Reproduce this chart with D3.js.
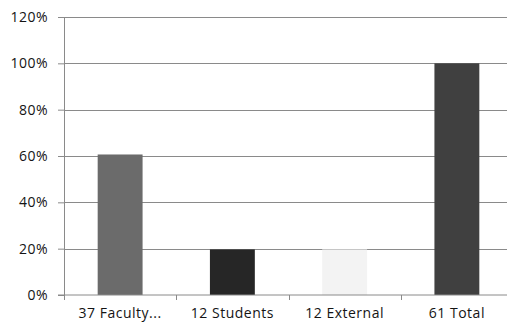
<!DOCTYPE html>
<html>
<head>
<meta charset="utf-8">
<script src="https://cdn.jsdelivr.net/npm/d3@7"></script>
<style>
  html, body { margin: 0; padding: 0; background: #fff; }
  svg { display: block; }
  text { font-family: "Open Sans", "DejaVu Sans", sans-serif; fill: #141414; letter-spacing: 0.5px; }
</style>
</head>
<body>
<svg id="chart" width="507" height="322"></svg>
<script>
// Participant groups and their share of the 61 total
const categories = ["37 Faculty...", "12 Students", "12 External", "61 Total"];
const shares = [37 / 61, 12 / 61, 12 / 61, 61 / 61];
const barColors = ["#6b6b6b", "#262626", "#f3f3f3", "#404040"];
const yTicks = [0, 0.2, 0.4, 0.6, 0.8, 1.0, 1.2];

const svg = d3.select("#chart");
const margin = { left: 64, top: 17, bottom: 27 };
const plotRight = 513;
const height = 322;
const lineColor = "#8a8a8a";

const x = d3.scaleBand()
  .domain(categories)
  .range([margin.left, plotRight])
  .paddingInner(0.6)
  .paddingOuter(0.3);

const y = d3.scaleLinear()
  .domain([0, 1.2])
  .range([height - margin.bottom, margin.top]);

// Value axis with short outer ticks on the left
const yAxis = svg.append("g")
  .attr("transform", `translate(${margin.left},0)`)
  .call(d3.axisLeft(y)
    .tickValues(yTicks)
    .tickFormat(d3.format(".0%"))
    .tickSize(6)
    .tickPadding(10));
yAxis.select(".domain").attr("stroke", lineColor);
yAxis.selectAll(".tick line").attr("stroke", lineColor);
yAxis.selectAll(".tick text").style("font-size", "14px").attr("fill", "#141414");

// Horizontal gridlines
svg.append("g")
  .selectAll("line")
  .data(yTicks.filter(d => d > 0))
  .join("line")
  .attr("x1", margin.left)
  .attr("x2", plotRight)
  .attr("y1", d => Math.round(y(d)) + 0.5)
  .attr("y2", d => Math.round(y(d)) + 0.5)
  .attr("stroke", lineColor)
  .attr("stroke-width", 1);

// Bars
svg.append("g")
  .selectAll("rect")
  .data(categories)
  .join("rect")
  .attr("x", d => x(d))
  .attr("width", x.bandwidth())
  .attr("y", (d, i) => y(shares[i]))
  .attr("height", (d, i) => y(0) - y(shares[i]))
  .attr("fill", (d, i) => barColors[i]);

// Category axis with ticks between groups
const xBoundaries = d3.scaleLinear()
  .domain([0, categories.length])
  .range([margin.left, plotRight]);
const xAxisG = svg.append("g")
  .attr("transform", `translate(0,${y(0)})`);
xAxisG.append("line")
  .attr("x1", margin.left - 6)
  .attr("x2", plotRight)
  .attr("stroke", lineColor);
xAxisG.selectAll(".sep")
  .data(d3.range(categories.length + 1))
  .join("line")
  .attr("class", "sep")
  .attr("x1", d => Math.round(xBoundaries(d)) + 0.5)
  .attr("x2", d => Math.round(xBoundaries(d)) + 0.5)
  .attr("y1", 0)
  .attr("y2", 5)
  .attr("stroke", lineColor);
xAxisG.selectAll(".cat")
  .data(categories)
  .join("text")
  .attr("class", "cat")
  .attr("x", d => x(d) + x.bandwidth() / 2)
  .attr("y", 23)
  .attr("text-anchor", "middle")
  .style("font-size", "14px")
  .text(d => d);
</script>
</body>
</html>
